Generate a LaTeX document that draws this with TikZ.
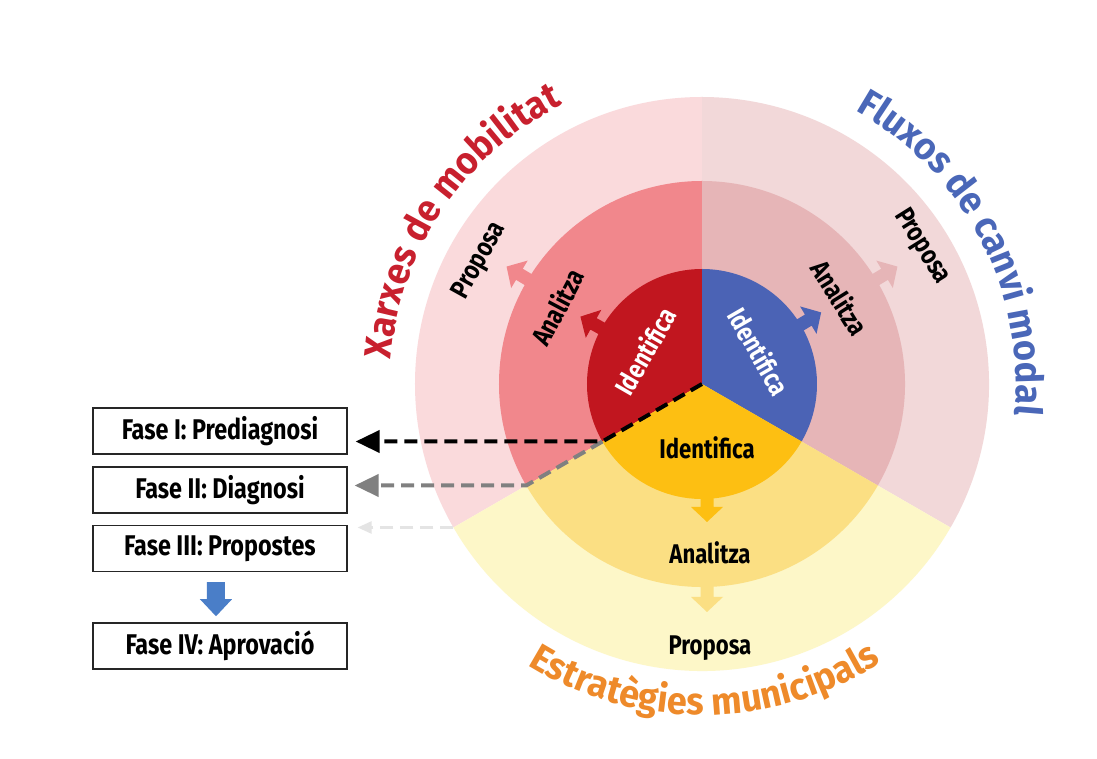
\documentclass[tikz,border=0pt]{standalone}
\usepackage{fontspec}
\setmainfont{Fira Sans}[FakeStretch=0.82]
\newfontfamily\titlefont{Fira Sans}[FakeStretch=0.95]
\usetikzlibrary{arrows.meta,decorations.text,calc}
\definecolor{inred}{HTML}{C1161F}
\definecolor{inblue}{HTML}{4B63B5}
\definecolor{inyel}{HTML}{FDBF12}
\definecolor{midred}{HTML}{F1878C}
\definecolor{midblue}{HTML}{E6B5B7}
\definecolor{midyel}{HTML}{FBDF83}
\definecolor{outred}{HTML}{FADADC}
\definecolor{outblue}{HTML}{F2D8D9}
\definecolor{outyel}{HTML}{FDF7C8}
\definecolor{tred}{HTML}{C8202E}
\definecolor{tblue}{HTML}{4A67B8}
\definecolor{torange}{HTML}{EE8A2A}
\definecolor{phasearrow}{HTML}{4A7EC8}
\definecolor{dashgray}{HTML}{808080}
\definecolor{faintgray}{HTML}{E4E4E4}
\newcommand\blockarr[3]{%
  \begin{scope}[shift={#2},rotate=#3]
    \fill[#1] (-20,-6.5) -- (0,-6.5) -- (0,-16) -- (15,0) -- (0,16) -- (0,6.5) -- (-20,6.5) -- cycle;
  \end{scope}}
\begin{document}
\begin{tikzpicture}[x=1pt,y=1pt,
  lab/.style={font=\fontsize{27}{31}\selectfont\bfseries, inner sep=0pt},
  phasebox/.style={draw=black!85, line width=1.3pt, minimum width=254pt, minimum height=46pt,
    font=\fontsize{28.5}{32}\selectfont\bfseries, inner sep=0pt, fill=white},
  dasharrow/.style={line width=4pt, dash pattern=on 13pt off 7pt,
    -{Triangle[length=24pt,width=22pt]}},
  titletext/.style={decorate, decoration={text along path, text align=center,
    text={|\titlefont\bfseries\fontsize{38}{42}\selectfont|#1}}},
]
\useasboundingbox (-702,-375) rectangle (395,384);
\fill[white] (-702,-375) rectangle (395,384);
\coordinate (c) at (0,0);
% outer ring
\fill[outred] (c) -- (90:287pt) arc[start angle=90,end angle=210,radius=287pt] -- cycle;
\fill[outblue] (c) -- (-30:287pt) arc[start angle=-30,end angle=90,radius=287pt] -- cycle;
\fill[outyel] (c) -- (210:287pt) arc[start angle=210,end angle=330,radius=287pt] -- cycle;
% arrows middle -> outer
\blockarr{midred}{(149:213pt)}{149}
\blockarr{midblue}{(31:213pt)}{31}
\blockarr{midyel}{(5,-213)}{270}
% middle ring
\fill[midred] (c) -- (90:203pt) arc[start angle=90,end angle=210,radius=203pt] -- cycle;
\fill[midblue] (c) -- (-30:203pt) arc[start angle=-30,end angle=90,radius=203pt] -- cycle;
\fill[midyel] (c) -- (210:203pt) arc[start angle=210,end angle=330,radius=203pt] -- cycle;
% arrows inner -> middle
\blockarr{inred}{(151:124pt)}{151}
\blockarr{inblue}{(31:124pt)}{31}
\blockarr{inyel}{(5,-123)}{270}
% inner
\fill[inred] (c) -- (90:115pt) arc[start angle=90,end angle=210,radius=115pt] -- cycle;
\fill[inblue] (c) -- (-30:115pt) arc[start angle=-30,end angle=90,radius=115pt] -- cycle;
\fill[inyel] (c) -- (210:115pt) arc[start angle=210,end angle=330,radius=115pt] -- cycle;

% labels
\node[lab, text=white, rotate=60] (ir) at (150:66pt) {Identifica};
\node[lab, text=white, rotate=-60] (ib) at (30:66pt) {Identifica};
\node[lab] (iy) at (5,-64) {Identifica};
\node[lab, rotate=62] (ar) at (152:164pt) {Analitza};
\node[lab, rotate=-58] (ab) at (32:163pt) {Analitza};
\node[lab] (ay) at (8,-169) {Analitza};
\node[lab, rotate=61] (pr) at (151:254pt) {Proposa};
\node[lab, rotate=-58] (pb) at (32:259pt) {Proposa};
\node[lab] (py) at (8,-264) {Proposa};

% titles
\path[titletext={Xarxes de mobilitat}, decoration={text color=tred}]
  (188:312pt) arc[start angle=188,end angle=104,radius=312pt];
\path[titletext={Fluxos de canvi modal}, decoration={text color=tblue}]
  (74:314pt) arc[start angle=74,end angle=-19,radius=314pt];
\path[titletext={Estratègies municipals}, decoration={text color=torange}]
  (200:331pt) arc[start angle=200,end angle=341,radius=331pt];

% phase boxes
\node[phasebox] (f1) at (-482,-47) {Fase I: Prediagnosi};
\node[phasebox] (f2) at (-482,-106) {Fase II: Diagnosi};
\node[phasebox] (f3) at (-482,-164.5) {Fase III: Propostes};
\node[phasebox] (f4) at (-482,-262) {Fase IV: Aprovació};
\coordinate (m34) at ($(f3.south)!0.5!(f4.north)+(-4,-2)$);
\fill[phasearrow] ($(m34)+(-9,17)$) -- ($(m34)+(9,17)$) -- ($(m34)+(9,0)$) -- ($(m34)+(16,0)$)
  -- ($(m34)+(0,-17)$) -- ($(m34)+(-16,0)$) -- ($(m34)+(-9,0)$) -- cycle;

% dashed connectors
\coordinate (p1) at (210:115pt);
\coordinate (p2) at (210:203pt);
\coordinate (p3) at (210:287pt);
\draw[dasharrow, faintgray, line width=2.5pt, -{Triangle[length=14pt,width=12pt]}, shorten >=10pt] (p3) -- (p3 -| f3.east);
\draw[dasharrow, dashgray, shorten >=7pt] (p1) -- (p2) -- (p2 -| f2.east);
\draw[dasharrow, black, shorten >=8pt] (c) -- (p1) -- (p1 -| f1.east);
\end{tikzpicture}
\end{document}
